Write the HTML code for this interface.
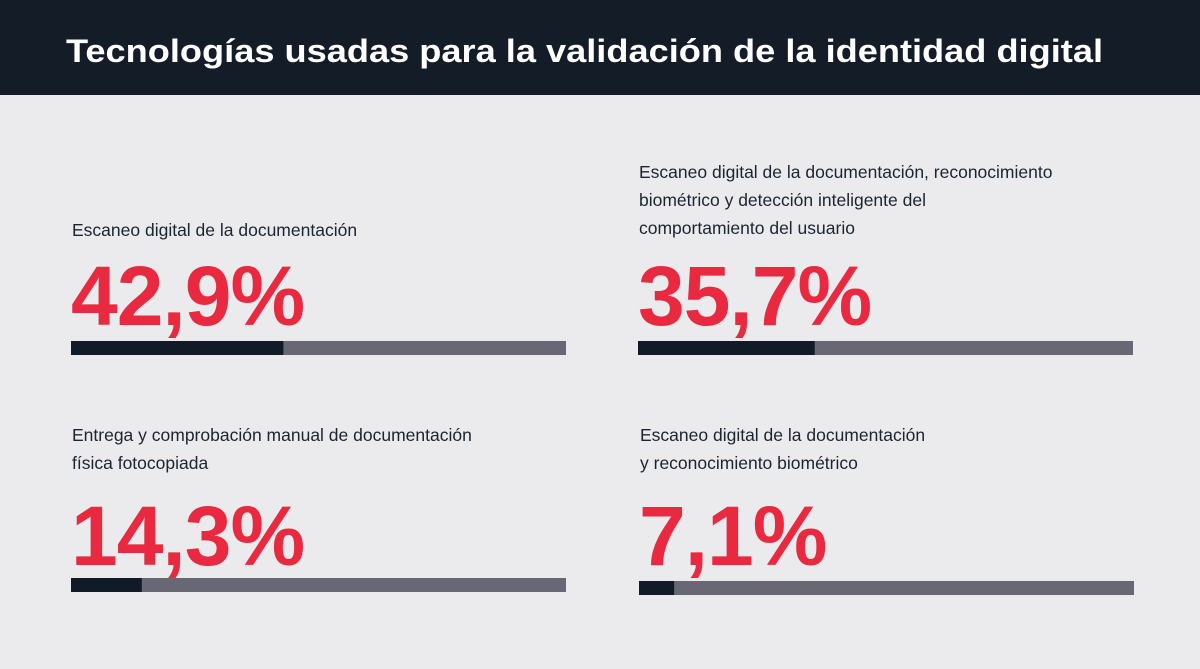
<!DOCTYPE html>
<html><head><meta charset="utf-8"><style>
html,body{margin:0;padding:0;background:#ebebed;}
svg{display:block;font-family:"Liberation Sans",sans-serif;}
</style></head><body>
<svg width="1200" height="669" viewBox="0 0 1200 669">
<rect x="0" y="0" width="1200" height="669" fill="#ebebed"/>
<rect x="0" y="0" width="1200" height="95" fill="#141c28"/>
<text x="66" y="62" fill="#fff" font-size="32" font-weight="bold" textLength="1037" lengthAdjust="spacingAndGlyphs">Tecnologías usadas para la validación de la identidad digital</text>
<g id="items"></g>
</svg>
<script>
const labels = [
 ["Escaneo digital de la documentación"],
 ["Escaneo digital de la documentación, reconocimiento","biométrico y detección inteligente del","comportamiento del usuario"],
 ["Entrega y comprobación manual de documentación","física fotocopiada"],
 ["Escaneo digital de la documentación","y reconocimiento biométrico"]
];
const values = [42.9, 35.7, 14.3, 7.1];
const valueText = ["42,9%","35,7%","14,3%","7,1%"];
const layout = [
 {x:71, labelY:[236], numY:325, barY:341},
 {x:638, labelY:[178,206,234], numY:325, barY:341},
 {x:71, labelY:[441,469], numY:565, barY:578},
 {x:639, labelY:[441,469], numY:565, barY:581}
];
const barW = 495;
function scaleX(v){ return v/100*barW; }
const ns="http://www.w3.org/2000/svg";
const g=document.getElementById('items');
values.forEach((v,i)=>{
  const L=layout[i];
  labels[i].forEach((t,j)=>{
    const tx=document.createElementNS(ns,'text');
    
    
    tx.setAttribute('x',L.x+1);tx.setAttribute('y',L.labelY[j]);
    tx.setAttribute('font-size','17.5');tx.setAttribute('fill','#1c2430');
    tx.textContent=t;g.appendChild(tx);
  });
  const n=document.createElementNS(ns,'text');
  
  
  n.setAttribute('x',L.x);n.setAttribute('y',L.numY);
  n.setAttribute('font-size','84');n.setAttribute('font-weight','bold');
  n.setAttribute('fill','#e8293f');n.setAttribute('letter-spacing','-1');
  n.textContent=valueText[i];g.appendChild(n);
  const bg=document.createElementNS(ns,'rect');
  
  
  bg.setAttribute('x',L.x);bg.setAttribute('y',L.barY);bg.setAttribute('width',barW);bg.setAttribute('height',14);
  bg.setAttribute('fill','#676873');g.appendChild(bg);
  const fg=document.createElementNS(ns,'rect');
  
  
  fg.setAttribute('x',L.x);fg.setAttribute('y',L.barY);fg.setAttribute('width',scaleX(v));fg.setAttribute('height',14);
  fg.setAttribute('fill','#111a27');g.appendChild(fg);
});
</script>
</body></html>
